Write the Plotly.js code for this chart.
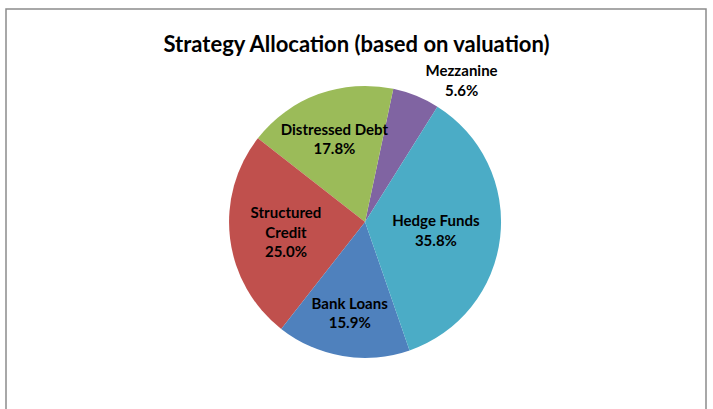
<!DOCTYPE html>
<html>
<head>
<meta charset="utf-8">
<script src="https://cdn.plot.ly/plotly-3.0.1.min.js"></script>
<style>html,body{margin:0;padding:0;background:#fff;}#chart{width:713px;height:409px;}</style>
</head>
<body>
<div id="chart"></div>
<script>
// Listed counterclockwise starting from the Mezzanine / Hedge Funds boundary
const categories = ["Mezzanine", "Distressed Debt", "Structured Credit", "Bank Loans", "Hedge Funds"];
const displayLabels = ["Mezzanine", "Distressed Debt", "Structured<br>Credit", "Bank Loans", "Hedge Funds"];
const values = [5.6, 17.8, 25.0, 15.9, 35.8];
const colors = ["#8064A2", "#9BBB59", "#C0504D", "#4F81BD", "#4BACC6"];
const textPositions = ["outside", "inside", "inside", "inside", "inside"];

const FONT = "Lato, 'Open Sans', sans-serif";

const trace = {
  type: "pie",
  labels: categories,
  values: values,
  customdata: displayLabels,
  texttemplate: "%{customdata}<br>%{value:.1f}%",
  textposition: textPositions,
  insidetextorientation: "horizontal",
  sort: false,
  direction: "counterclockwise",
  rotation: 12,
  marker: {colors: colors, line: {width: 0}},
  textfont: {family: FONT, size: 15, color: "#000", weight: "bold"},
  outsidetextfont: {family: FONT, size: 15, color: "#000", weight: "bold"},
  insidetextfont: {family: FONT, size: 15, color: "#000", weight: "bold"},
  domain: {x: [0.024, 1], y: [0.125, 0.79]},
  showlegend: false,
  hoverinfo: "label+value"
};

const layout = {
  width: 713,
  height: 409,
  margin: {l: 0, r: 0, t: 0, b: 0},
  paper_bgcolor: "#fff",
  uniformtext: {minsize: 15, mode: "show"},
  title: {
    text: "<b>Strategy Allocation (based on valuation)</b>",
    font: {family: FONT, size: 22, color: "#000"},
    x: 0.5, xanchor: "center",
    y: 1 - 44/409, yanchor: "middle", yref: "paper"
  },
  shapes: [{
    type: "rect", xref: "paper", yref: "paper",
    x0: 6/713, x1: 706/713, y0: -0.05, y1: 1 - 9/409,
    line: {color: "#8c8c8c", width: 1.5}, fillcolor: "rgba(0,0,0,0)"
  }]
};

Plotly.newPlot("chart", [trace], layout, {displayModeBar: false, staticPlot: true});
</script>
</body>
</html>
